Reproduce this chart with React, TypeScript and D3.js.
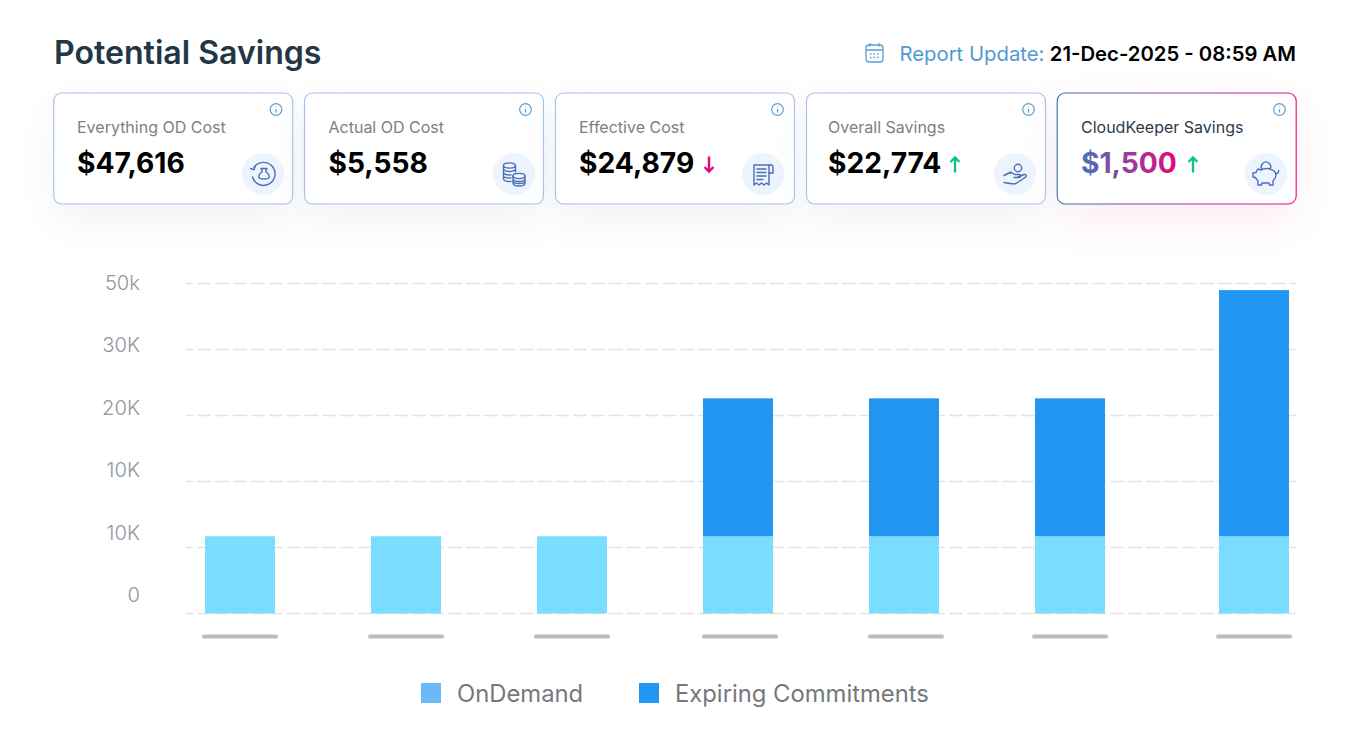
import React from "react";
import * as d3 from "d3";

const categories = ["A", "B", "C", "D", "E", "F", "G"];
const onDemand = [11700, 11700, 11700, 11700, 11700, 11700, 11700];
const expiring = [0, 0, 0, 20900, 20900, 20900, 37300];
const yTicks = [0, 10000, 20000, 30000, 40000, 50000];
const yTickLabels = ["0", "10K", "10K", "20K", "30K", "50k"];
const cardLabels = ["Everything OD Cost", "Actual OD Cost", "Effective Cost", "Overall Savings", "CloudKeeper Savings"];
const cardValues = ["$47,616", "$5,558", "$24,879", "$22,774", "$1,500"];
const cardTrends = ["", "", "down", "up", "up"];
const legendLabels = ["OnDemand", "Expiring Commitments"];

const FONT = "Inter, 'Noto Sans', sans-serif";
const W = 1350, H = 740;
const CARD_X = [53.7, 304.5, 555.5, 806.5, 1057.2];
const TEXT_X = [77, 328.5, 579, 828, 1081];
const ICON_X = [263, 514, 763, 1015, 1266];
const INFO_X = [276, 525.5, 777.5, 1028.5, 1279.5];
const TREND_X = [0, 0, 709, 955, 1193];
const CARD_W = 239, CARD_Y = 93, CARD_H = 111;
const BAR_W = 70;
const LAST_SHIFT = 18;
const TICK_NUDGE = [0, 0, 0, 2, 2, 0, 0];
const stroke = "#4a6fb5";

const y = d3.scaleLinear().domain([0, 50000]).range([613.5, 283.5]);
const x = d3.scalePoint<string>().domain(categories).range([240, 1236]);
const labelY = d3.scalePoint<number>().domain(yTicks).range([595, 283]);
const cx = (c: string, i: number) => (x(c) as number) + (i === categories.length - 1 ? LAST_SHIFT : 0);

function Icon({ i }: { i: number }) {
  const common = { fill: "none", stroke, strokeWidth: 1.4, strokeLinecap: "round" as const, strokeLinejoin: "round" as const };
  if (i === 0) return (
    <g {...common}>
      <path d="M-9 -6.5 A11.5 11.5 0 1 1 -10.5 3" />
      <path d="M-12.5 -5.5 L-9 -4.2 L-7.8 -8" />
      <path d="M-2 -5.5 H4 L2.6 -2.5 C5 -1 6.5 1 6.2 3.2 C6 5.5 -4 5.5 -4.2 3.2 C-4.5 1 -3 -1 -0.6 -2.5 Z" />
    </g>
  );
  if (i === 1) return (
    <g {...common}>
      <ellipse cx={-4.5} cy={-8.5} rx={6} ry={2.6} />
      <path d="M-10.5 -8.5 V5 C-10.5 6.5 -7 7.5 -3 7.5 M1.5 -8.5 V-2 M-10.5 -5 C-10.5 -3.5 -7 -2.5 -4.5 -2.5 S1.5 -3.5 1.5 -5 M-10.5 -1.5 C-10.5 0 -7 1 -3 1 M-10.5 2 C-10.5 3.5 -7 4 -3 4" />
      <ellipse cx={5} cy={2} rx={6} ry={2.6} />
      <path d="M-1 2 V9 C-1 11 2 12 5 12 S11 11 11 9 V2 M-1 5 C-1 6.5 2 7.5 5 7.5 S11 6.5 11 5 M-1 7.5 C-1 9 2 9.5 5 9.5 S11 9 11 7.5" />
    </g>
  );
  if (i === 2) return (
    <g {...common}>
      <path d="M-9 -9 H6 V11 L3.5 9 L1 11 L-1.5 9 L-4 11 L-6.5 9 L-9 11 Z" />
      <path d="M6 -9 H8.5 A2 2 0 0 1 10 -7 V-1 H6" />
      <path d="M-6 -5 H3 M-6 -1.5 H3 M-6 2 H3 M-6 5.5 H0" />
    </g>
  );
  if (i === 3) return (
    <g {...common} transform="translate(0,1.5)">
      <circle cx={3} cy={-7.5} r={3.7} />
      <path d="M-11 0 C-7 -3 -3 -3 0 -1 H4 C6 -1 6 2 4 2 H-1 M-4 -3.5 C-7 -2 -9 -1 -11 0" />
      <path d="M3 1.5 L9 -1 C11.5 -1.5 12 1 10 2 L1 8 C-1 9 -6 8 -11 7" />
    </g>
  );
  return (
    <g {...common}>
      <path d="M-4 -4.8 A4.7 4.7 0 1 1 4 -4.8" />
      <path d="M-8 -5 L-5 -4 C-1 -6 4 -6 8 -3 C9 -2 10 -1 10 1 C10 4 8 6 7 7 L7 11 H3.5 L3 9 H-4 L-4.5 11 H-8 L-8 7 C-9 6 -10 5 -10.5 3.5 L-13 3 V-1 L-10 -1.5 C-9.5 -3 -9 -4 -8 -5 Z" />
      <path d="M10 -0.5 C12 -0.5 13 -2 12.5 -3.5" />
    </g>
  );
}

export default function App() {
  const bars = categories.map((c, i) => ({ c, i, od: onDemand[i], ex: expiring[i] }));
  return (
    <svg width={W} height={H} viewBox={`0 0 ${W} ${H}`} style={{ position: "absolute", left: 0, top: 0, background: "#fff", fontFamily: FONT }}>
      <defs>
        <filter id="sh" x="-30%" y="-60%" width="160%" height="240%"><feGaussianBlur stdDeviation="20" /></filter>
        <linearGradient id="bd" x1="0" y1="0" x2="1" y2="0">
          <stop offset="0" stopColor="#3f72ab" /><stop offset="1" stopColor="#e6117f" />
        </linearGradient>
        <linearGradient id="tx" gradientUnits="userSpaceOnUse" x1="1081" y1="0" x2="1176" y2="0">
          <stop offset="0" stopColor="#4a72b8" /><stop offset="1" stopColor="#e5067f" />
        </linearGradient>
      </defs>

      <text x={54} y={64} fontSize={32.1} fontWeight={600} fill="#233645">Potential Savings</text>

      <g fill="none" stroke="#5a9fd0" strokeWidth={1.3}>
        <rect x={866} y={45} width={17} height={17} rx={3} />
        <path d="M866 50 H883 M870 43 V46.5 M879 43 V46.5" />
        <path d="M870 54 H880 M870 57.5 H880" strokeDasharray="1.5 2" />
      </g>
      <text x={899.5} y={61} fontSize={20.3} fill="#4f9ad0">Report Update:</text>
      <text x={1296} y={61} fontSize={20.3} fontWeight={600} fill="#000" textAnchor="end">21-Dec-2025 - 08:59 AM</text>

      {cardLabels.map((l, i) => {
        const cxp = CARD_X[i];
        const special = i === 4;
        return (
          <g key={l}>
            <rect x={cxp + 2} y={CARD_Y + 16} width={CARD_W - 4} height={CARD_H} rx={10} fill={special ? "#f7c6e0" : "#c3cbd8"} opacity={special ? 0.35 : 0.25} filter="url(#sh)" />
            <rect x={cxp} y={CARD_Y} width={CARD_W} height={CARD_H} rx={8} fill="#fff" stroke={special ? "url(#bd)" : "#a9c2e4"} strokeWidth={1.15} />
            <g transform={`translate(${INFO_X[i]},109.5)`} fill="none" stroke="#5a9fd0" strokeWidth={1.2}>
              <circle r={5.8} />
              <path d="M0 -0.5 V3 M0 -3 V-2.2" />
            </g>
            <text x={TEXT_X[i]} y={132.5} fontSize={16} fill={special ? "#2b3b4c" : "#7b7f84"}>{l}</text>
            <text x={TEXT_X[i]} y={173} fontSize={28.2} fontWeight={650} fill={special ? "url(#tx)" : "#000"}>{cardValues[i]}</text>
            {cardTrends[i] && (
              <g transform={`translate(${TREND_X[i]},164.5)`} fill="none" stroke={cardTrends[i] === "up" ? "#10c08a" : "#e5067f"} strokeWidth={2.4}>
                {cardTrends[i] === "up"
                  ? <path d="M0 8 V-7 M-4.5 -2.5 L0 -7 L4.5 -2.5" />
                  : <path d="M0 -8 V7 M-4.5 2.5 L0 7 L4.5 2.5" />}
              </g>
            )}
            <circle cx={ICON_X[i]} cy={174} r={21} fill="#eef4fd" />
            <g transform={`translate(${ICON_X[i]},174)`}><Icon i={i} /></g>
          </g>
        );
      })}

      <g>
        {yTicks.map((t, i) => (
          <g key={t}>
            <line x1={186} x2={1296} y1={y(t)} y2={y(t)} stroke="#e2e3e5" strokeWidth={1.5} strokeDasharray="14 3.9" strokeDashoffset={6.7} />
            <text x={140} y={(labelY(t) as number) + 7} fontSize={20.2} fontWeight={300} fill="#949699" textAnchor="end">{yTickLabels[i]}</text>
          </g>
        ))}
      </g>

      {bars.map(b => (
        <g key={b.c}>
          <rect x={cx(b.c, b.i) - BAR_W / 2} width={BAR_W} y={y(b.od)} height={y(0) - y(b.od)} fill="#7adcff" />
          {b.ex > 0 && <rect x={cx(b.c, b.i) - BAR_W / 2} width={BAR_W} y={y(b.od + b.ex)} height={y(b.od) - y(b.od + b.ex)} fill="#2196f3" />}
          <rect x={cx(b.c, b.i) - 38 + TICK_NUDGE[b.i]} y={634.5} width={76} height={4} rx={2} fill="#bcbcbc" />
        </g>
      ))}

      <rect x={421} y={683} width={20} height={20} fill="#6cb8f8" />
      <text x={457} y={702} fontSize={23.8} fill="#76787b">{legendLabels[0]}</text>
      <rect x={639} y={683} width={20} height={20} fill="#2196f3" />
      <text x={675} y={702} fontSize={23.8} fill="#76787b">{legendLabels[1]}</text>
    </svg>
  );
}
